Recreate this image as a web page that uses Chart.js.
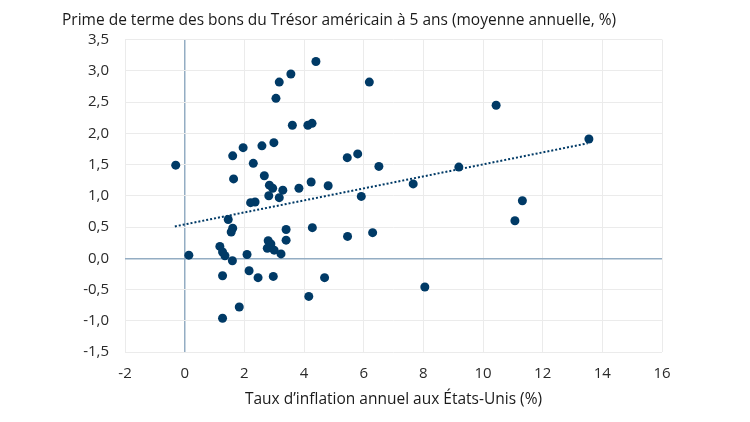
<!DOCTYPE html>
<html>
<head>
<meta charset="utf-8">
<script src="https://cdn.jsdelivr.net/npm/chart.js@4.4.0/dist/chart.umd.min.js"></script>
<style>
  html, body { margin: 0; padding: 0; background: #fff; }
</style>
</head>
<body>
<canvas id="chart" width="750" height="422"></canvas>
<script>
// Annual US inflation (%) vs. 5-year Treasury term premium (%)
const inflation = [
  -0.30, 4.40, 3.56, 3.17, 6.19, 3.06, 3.61, 4.13, 4.27, 1.96,
  2.59, 2.99, 1.61, 5.45, 5.80, 2.30, 6.51, 1.64, 2.67, 2.84,
  2.95, 3.29, 3.83, 4.24, 4.81, 7.66, 2.82, 3.17, 5.92, 2.21,
  2.36, 1.46, 1.61, 1.56, 0.14, 1.18, 1.27, 1.35, 1.60, 2.09,
  2.80, 2.89, 2.77, 3.00, 3.23, 3.40, 3.40, 4.28, 5.46, 6.30,
  1.27, 2.16, 2.46, 2.97, 4.69, 8.05, 4.16, 1.83, 1.27, 10.44,
  13.55, 9.19, 11.32, 11.07
];
const termPremium = [
  1.49, 3.15, 2.95, 2.82, 2.82, 2.56, 2.13, 2.13, 2.16, 1.77,
  1.80, 1.85, 1.64, 1.61, 1.67, 1.52, 1.47, 1.27, 1.32, 1.17,
  1.12, 1.09, 1.12, 1.22, 1.16, 1.19, 1.00, 0.97, 0.99, 0.89,
  0.90, 0.62, 0.48, 0.42, 0.05, 0.19, 0.10, 0.04, -0.04, 0.06,
  0.28, 0.23, 0.16, 0.13, 0.07, 0.46, 0.29, 0.49, 0.35, 0.41,
  -0.28, -0.20, -0.31, -0.29, -0.31, -0.46, -0.61, -0.78, -0.96, 2.45,
  1.91, 1.46, 0.92, 0.60
];

// dotted trend line end points
const trendX = [-0.33, 13.51];
const trendY = [0.51, 1.84];

const navy = '#003a66';
const gridColor = '#ebebeb';
const zeroColor = '#94adc3';
const font = 'Open Sans';

const points = inflation.map((x, i) => ({ x: x, y: termPremium[i] }));
const trend = trendX.map((x, i) => ({ x: x, y: trendY[i] }));

function gridFor(ctx) {
  return ctx.tick && ctx.tick.value === 0 ? zeroColor : gridColor;
}
function gridWidth(ctx) {
  return ctx.tick && ctx.tick.value === 0 ? 1.5 : 1;
}

new Chart(document.getElementById('chart').getContext('2d'), {
  type: 'scatter',
  data: {
    datasets: [
      {
        label: 'Années',
        data: points,
        backgroundColor: navy,
        borderWidth: 0,
        pointRadius: 4.5,
        pointHoverRadius: 4.5,
      },
      {
        label: 'Tendance',
        data: trend,
        showLine: true,
        borderColor: navy,
        borderWidth: 2,
        borderDash: [2, 2],
        pointRadius: 0,
        fill: false,
      },
    ],
  },
  options: {
    responsive: false,
    animation: false,
    devicePixelRatio: 1,
    layout: {
      padding: { left: 62, right: 88, top: 0, bottom: 0 },
    },
    plugins: {
      legend: { display: false },
      tooltip: { enabled: false },
      title: {
        display: true,
        text: 'Prime de terme des bons du Trésor américain à 5 ans (moyenne annuelle, %)',
        align: 'start',
        color: '#1a1a1a',
        font: { family: font, size: 15.5, weight: 'normal' },
        padding: { top: 11, bottom: 10 },
      },
    },
    scales: {
      x: {
        type: 'linear',
        min: -2,
        max: 16,
        ticks: {
          stepSize: 2,
          padding: 13,
          color: '#2a2a2a',
          font: { family: font, size: 15 },
          callback: (v) => String(v),
        },
        grid: { color: gridFor, lineWidth: gridWidth, drawTicks: false },
        border: { display: false },
        title: {
          display: true,
          text: 'Taux d’inflation annuel aux États-Unis (%)',
          color: '#1a1a1a',
          font: { family: font, size: 15.5 },
          padding: { top: 0, bottom: 13 },
        },
        afterFit: (scale) => { scale.height = 70; },
      },
      y: {
        type: 'linear',
        min: -1.5,
        max: 3.5,
        ticks: {
          stepSize: 0.5,
          padding: 16,
          color: '#2a2a2a',
          font: { family: font, size: 15 },
          callback: (v) => v.toFixed(1).replace('.', ','),
        },
        grid: { color: gridFor, lineWidth: gridWidth, drawTicks: false },
        border: { display: false },
        afterFit: (scale) => { scale.width = 63; },
      },
    },
  },
});
</script>
</body>
</html>
